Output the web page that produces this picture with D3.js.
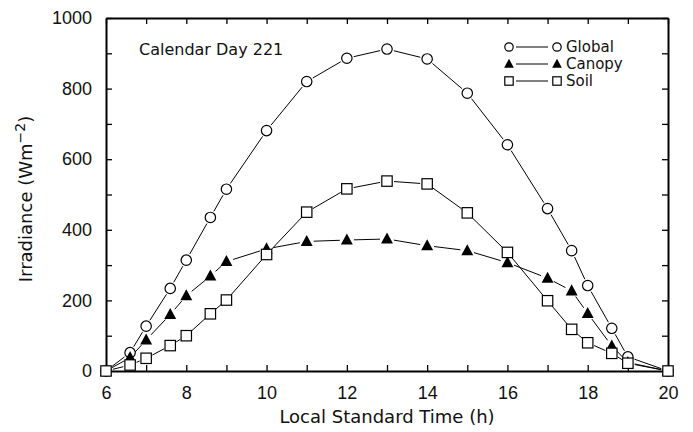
<!DOCTYPE html>
<html>
<head>
<meta charset="utf-8">
<script src="https://cdn.jsdelivr.net/npm/d3@7"></script>
<style>
  body { margin: 0; background: #fff; }
  svg { font-family: "DejaVu Sans", sans-serif; }
</style>
</head>
<body>
<svg id="chart" width="693" height="432"></svg>
<script>
// hours of the day (local standard time)
const hours = [6, 6.6, 7, 7.6, 8, 8.6, 9, 10, 11, 12, 13, 14, 15, 16, 17, 17.6, 18, 18.6, 19, 20];
const globalVals = [0, 52, 127, 234, 314, 435, 515, 681, 820, 886, 912, 884, 787, 641, 460, 341, 242, 121, 40, 0];
const canopyVals = [0, 38, 88, 160, 213, 269, 310, 346, 367, 371, 374, 355, 341, 307, 263, 227, 163, 71, 24, 0];
const soilVals = [0, 17, 36, 72, 100, 162, 201, 330, 450, 516, 538, 530, 448, 336, 199, 118, 80, 50, 22, 0];
const seriesNames = ["Global", "Canopy", "Soil"];
const xTicks = [6, 7, 8, 9, 10, 11, 12, 13, 14, 15, 16, 17, 18, 19, 20];
const yTicks = [0, 100, 200, 300, 400, 500, 600, 700, 800, 900, 1000];

const svg = d3.select("#chart");
const plotLeft = 106, plotRight = 668, plotTop = 18, plotBottom = 371;

const x = d3.scaleLinear().domain([6, 20]).range([plotLeft, plotRight]);
const y = d3.scaleLinear().domain([0, 1000]).range([plotBottom, plotTop]);

const series = [
    { name: seriesNames[0], values: globalVals, shape: "circle" },
    { name: seriesNames[1], values: canopyVals, shape: "triangle" },
    { name: seriesNames[2], values: soilVals, shape: "square" }
];

// axes, ticks pointing inward
function styleAxis(g) {
    g.select(".domain").attr("stroke-width", 2);
    g.selectAll(".tick line").attr("stroke-width", 1.3);
    g.selectAll("text").attr("font-size", 18).attr("fill", "#111").attr("font-family", null);
}

svg.append("g")
    .attr("transform", `translate(0,${plotBottom})`)
    .call(d3.axisBottom(x).tickValues(xTicks).tickSize(-6).tickSizeOuter(0).tickPadding(15)
        .tickFormat(d => d % 2 === 0 ? d : ""))
    .call(styleAxis);

svg.append("g")
    .attr("transform", `translate(0,${plotTop})`)
    .call(d3.axisTop(x).tickValues(xTicks).tickSize(-6).tickSizeOuter(0).tickFormat(""))
    .call(styleAxis);

svg.append("g")
    .attr("transform", `translate(${plotLeft},0)`)
    .call(d3.axisLeft(y).tickValues(yTicks).tickSize(-6).tickSizeOuter(0).tickPadding(14)
        .tickFormat(d => d % 200 === 0 ? d : ""))
    .call(styleAxis);

svg.append("g")
    .attr("transform", `translate(${plotRight},0)`)
    .call(d3.axisRight(y).tickValues(yTicks).tickSize(-6).tickSizeOuter(0).tickFormat(""))
    .call(styleAxis);

// axis titles
svg.append("text")
    .attr("x", 387)
    .attr("y", 423)
    .attr("text-anchor", "middle")
    .attr("font-size", 18)
    .attr("fill", "#111")
    .text("Local Standard Time (h)");

const yTitle = svg.append("text")
    .attr("transform", "translate(32,199) rotate(-90)")
    .attr("text-anchor", "middle")
    .attr("font-size", 18)
    .attr("fill", "#111");
yTitle.append("tspan").text("Irradiance (Wm");
yTitle.append("tspan").attr("dy", -7).attr("font-size", 14).text("\u22122");
yTitle.append("tspan").attr("dy", 7).text(")");

svg.append("text")
    .attr("x", 139)
    .attr("y", 55)
    .attr("font-size", 16)
    .attr("fill", "#111")
    .text("Calendar Day 221");

// marker drawing
function drawMarker(g, shape, cx, cy, r) {
    if (shape === "circle") {
        g.append("circle").attr("cx", cx).attr("cy", cy).attr("r", r)
            .attr("fill", "#fff").attr("stroke", "#000").attr("stroke-width", 1.2);
    } else if (shape === "square") {
        g.append("rect").attr("x", cx - r).attr("y", cy - r).attr("width", 2 * r).attr("height", 2 * r)
            .attr("fill", "#fff").attr("stroke", "#000").attr("stroke-width", 1.2);
    } else {
        g.append("path")
            .attr("d", `M${cx},${cy - r * 1.25}L${cx + r * 1.15},${cy + r * 0.87}L${cx - r * 1.15},${cy + r * 0.87}Z`)
            .attr("fill", "#000");
    }
}

// line segments with gaps at the markers
const gap = 7;
series.forEach(s => {
    const pts = hours.map((h, i) => [x(h), y(s.values[i])]);
    const g = svg.append("g");
    for (let i = 0; i < pts.length - 1; i++) {
        const [x1, y1] = pts[i], [x2, y2] = pts[i + 1];
        const len = Math.hypot(x2 - x1, y2 - y1);
        if (len <= gap * 2) continue;
        const ux = (x2 - x1) / len, uy = (y2 - y1) / len;
        g.append("line")
            .attr("x1", x1 + ux * gap).attr("y1", y1 + uy * gap)
            .attr("x2", x2 - ux * gap).attr("y2", y2 - uy * gap)
            .attr("stroke", "#000").attr("stroke-width", 1);
    }
});

series.forEach(s => {
    const g = svg.append("g");
    hours.forEach((h, i) => drawMarker(g, s.shape, x(h), y(s.values[i]), 5.2));
});

// legend
const legend = svg.append("g");
series.forEach((s, i) => {
    const ly = 47 + i * 17;
    drawMarker(legend, s.shape, 509, ly, 4.2);
    legend.append("line").attr("x1", 516).attr("x2", 548).attr("y1", ly).attr("y2", ly)
        .attr("stroke", "#000").attr("stroke-width", 1);
    drawMarker(legend, s.shape, 557, ly, 4.2);
    legend.append("text").attr("x", 566).attr("y", ly + 5)
        .attr("font-size", 15).attr("fill", "#111").text(s.name);
});
</script>
</body>
</html>
